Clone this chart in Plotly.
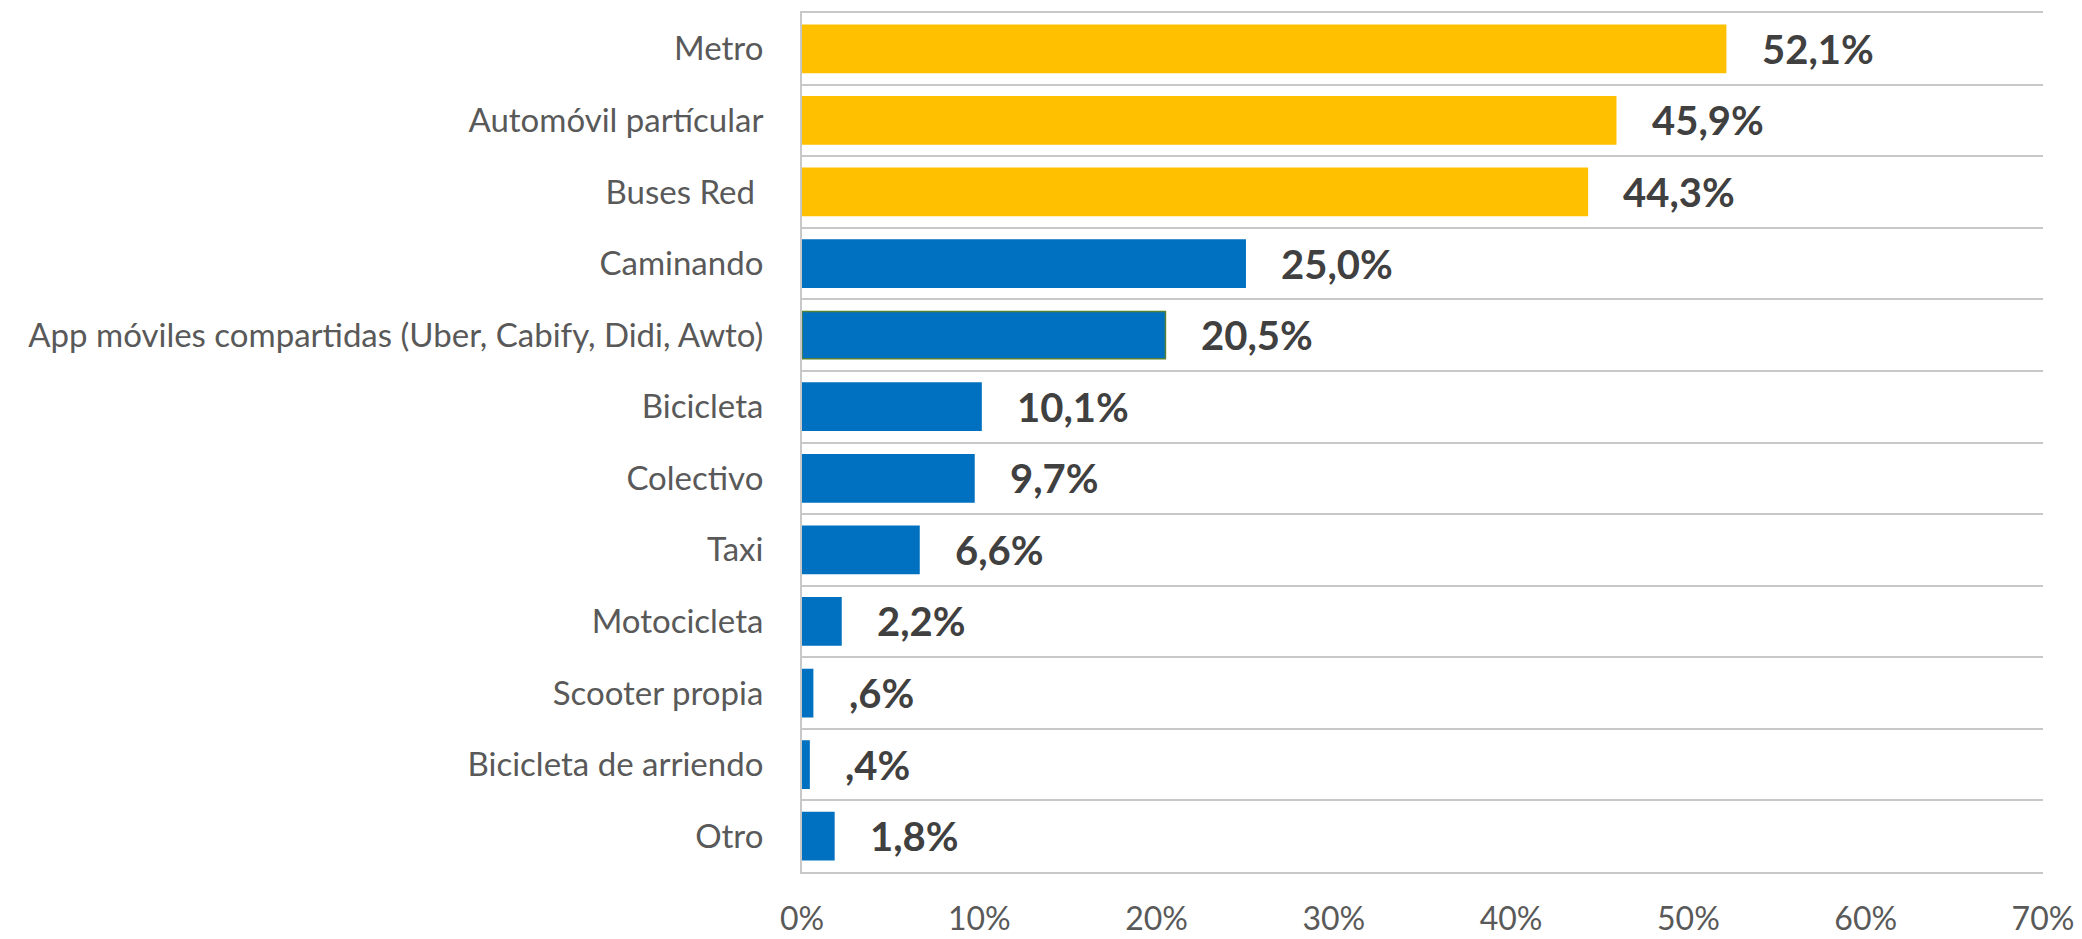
import plotly.graph_objects as go

# ─────────────────────────────────────────
# DATA
# ─────────────────────────────────────────

categories = [
    "Metro",
    "Automóvil partícular",
    "Buses Red ",
    "Caminando",
    "App móviles compartidas (Uber, Cabify, Didi, Awto)",
    "Bicicleta",
    "Colectivo",
    "Taxi",
    "Motocicleta",
    "Scooter propia",
    "Bicicleta de arriendo",
    "Otro",
]
values = [52.1, 45.9, 44.3, 25.0, 20.5, 10.1, 9.7, 6.6, 2.2, 0.6, 0.4, 1.8]
highlight = [True, True, True, False, False, False, False, False, False, False, False, False]
x_ticks = [0, 10, 20, 30, 40, 50, 60, 70]

YELLOW = "#FFC000"
BLUE   = "#0070C0"
GRID   = "#C8C8C8"
FONT   = "Lato"


def fmt_pct(v: float) -> str:
    s = f"{v:.1f}".replace(".", ",")
    if s.startswith("0,"):
        s = s[1:]
    return s + "%"


positions = list(range(len(categories)))
colors    = [YELLOW if h else BLUE for h in highlight]
outlines  = ["#548235" if c.startswith("App") else col
             for c, col in zip(categories, colors)]

fig = go.Figure(go.Bar(
    x            = values,
    y            = positions,
    orientation  = "h",
    width        = 0.66,
    marker       = dict(color=colors, line=dict(color=outlines, width=1.5)),
    hoverinfo    = "skip",
))

# data labels, a bit off the bar end like the original
for v, p in zip(values, positions):
    fig.add_annotation(
        x=v, y=p, xref="x", yref="y",
        text=fmt_pct(v),
        showarrow=False,
        xanchor="left",
        xshift=34,
        font=dict(family=FONT, size=40, color="#404040", weight="bold"),
    )

fig.update_layout(
    width         = 2082,
    height        = 939,
    margin        = dict(l=802, r=39, t=13, b=67, autoexpand=False),
    paper_bgcolor = "white",
    plot_bgcolor  = "white",
    showlegend    = False,
    font          = dict(family=FONT, color="#595959"),
    xaxis = dict(
        range      = [0, 70],
        tickvals   = x_ticks,
        ticktext   = [f"{t}%" for t in x_ticks],
        tickfont   = dict(size=32, color="#595959"),
        showgrid   = False,
        zeroline   = False,
        showline   = True,
        mirror     = True,
        linecolor  = GRID,
        linewidth  = 2,
        ticks      = "outside",
        ticklen    = 18,
        tickcolor  = "rgba(0,0,0,0)",
        automargin = False,
    ),
    yaxis = dict(
        range      = [len(categories) - 0.5, -0.5],
        tickvals   = positions,
        ticktext   = categories,
        tickfont   = dict(size=33, color="#595959"),
        showgrid   = False,
        zeroline   = False,
        showline   = True,
        linecolor  = GRID,
        linewidth  = 2,
        automargin = False,
        ticklabelstandoff = 30,
        minor = dict(
            tickmode  = "linear",
            tick0     = 0.5,
            dtick     = 1,
            showgrid  = True,
            gridcolor = GRID,
            gridwidth = 2,
            ticks     = "",
        ),
    ),
)

# page body has a default 8px margin; drop it so the chart fills the window
fig.write_html(
    "out.html",
    config={"displayModeBar": False},
    post_script="document.body.style.margin='0';",
)
